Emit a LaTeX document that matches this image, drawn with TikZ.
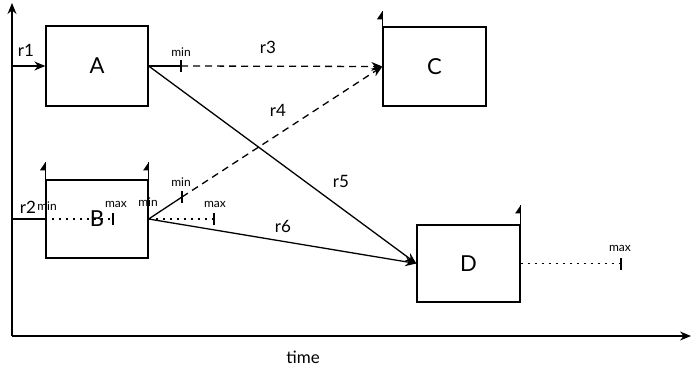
\documentclass[tikz,border=0pt]{standalone}
\usepackage{fontspec}
\setmainfont{Lato}
\usetikzlibrary{arrows.meta}
\begin{document}
\begin{tikzpicture}[x=1pt,y=-1pt,
  box/.style={draw, line width=1.3pt, inner sep=0pt, font=\fontsize{22}{26}\selectfont},
  lbl/.style={font=\fontsize{17}{20}\selectfont, inner sep=0pt},
  small/.style={font=\fontsize{12}{14}\selectfont, inner sep=0pt},
  conn/.style={line width=1.3pt},
  arr/.style={conn, -{Stealth[length=11pt,width=9pt]}},
  dotline/.style={conn, dash pattern=on 2pt off 5pt},
  tickmark/.style={line width=1.3pt},
  flagtri/.style={fill=black}]
\useasboundingbox (0,0) rectangle (692,370);
% axes
\coordinate (origin) at (12,336);
\coordinate (ytop) at (12,3);
\coordinate (xend) at (691,336);
\draw[arr] (origin) -- (ytop);
\draw[arr] (origin) -- (xend);
\node[lbl] (time) at (303,357) {time};
% boxes
\node[box, minimum width=102pt, minimum height=80pt] (A) at (97,66) {A};
\node[box, minimum width=102pt, minimum height=78pt] (B) at (97,219) {};
\node[box, minimum width=103pt, minimum height=79pt] (C) at (434.5,66.5) {C};
\node[box, minimum width=103pt, minimum height=77pt] (D) at (468.5,263.5) {D};
% flags
\draw[conn] (B.north west) -- ++(0,-17) coordinate (fb1);
\fill[flagtri] (fb1) -- ++(-5.5,8) -- ++(5.5,0) -- cycle;
\draw[conn] (B.north east) -- ++(0,-17) coordinate (fb2);
\fill[flagtri] (fb2) -- ++(-5.5,8) -- ++(5.5,0) -- cycle;
\draw[conn] (C.north west) -- ++(0,-15) coordinate (fc);
\fill[flagtri] (fc) -- ++(-5.5,8) -- ++(5.5,0) -- cycle;
\draw[conn] (D.north east) -- ++(0,-19) coordinate (fd);
\fill[flagtri] (fd) -- ++(-5.5,8) -- ++(5.5,0) -- cycle;
% tick coordinates
\coordinate (r1s) at (12,66);
\coordinate (r2s) at (12,219);
\coordinate (tA) at (181,66);
\coordinate (tB0) at (113,219);
\coordinate (tB1) at (182,197);
\coordinate (tB2) at (214,219);
\coordinate (tD) at (621,263.5);
% dotted lines inside/after B and D
\draw[dotline] (B.west) -- (tB0);
\draw[dotline] (B.east) -- (tB2);
\draw[dotline] (D.east) -- (tD);
\node[box, draw=none, fill=none] (Blabel) at (B.center) {B};
% connectors
\draw[arr] (r1s) -- (A.west);
\draw[conn] (r2s) -- (B.west);
\draw[conn] (A.east) -- (tA);
\draw[arr, dash pattern=on 7pt off 5pt] (tA) -- (C.west);
\draw[arr] (A.east) -- (D.west);
\draw[conn] (B.east) -- (tB1);
\draw[arr, dash pattern=on 7pt off 5pt] (tB1) -- (C.west);
\draw[arr] (B.east) -- (D.west);
% ticks
\foreach \t in {tA,tB0,tB1,tB2,tD}
  \draw[tickmark] ([yshift=-6pt]\t) -- ([yshift=6pt]\t);
% labels
\node[lbl] (l1) at (26,50) {r1};
\node[lbl] (l2) at (28,207) {r2};
\node[lbl] (l3) at (268,47) {r3};
\node[lbl] (l4) at (278,110) {r4};
\node[lbl] (l5) at (341,181) {r5};
\node[lbl] (l6) at (283,226) {r6};
\node[small] (mA) at (181,52) {min};
\node[small] (mB0) at (47,206) {min};
\node[small] (xB0) at (116,204) {max};
\node[small] (mBe) at (148,202) {min};
\node[small] (mB1) at (181,182) {min};
\node[small] (xB2) at (215,204) {max};
\node[small] (xD) at (620,248) {max};
\end{tikzpicture}
\end{document}
